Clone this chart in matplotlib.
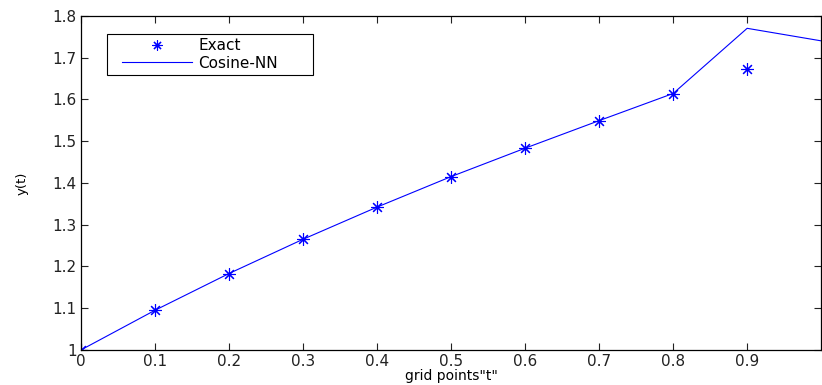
import matplotlib
matplotlib.use("Agg")
import matplotlib.pyplot as plt
from matplotlib.lines import Line2D
from matplotlib.legend_handler import HandlerLine2D

# grid points
t_exact = [0.0, 0.1, 0.2, 0.3, 0.4, 0.5, 0.6, 0.7, 0.8, 0.9]
y_exact = [1.000, 1.095, 1.183, 1.265, 1.342, 1.415, 1.483, 1.549, 1.612, 1.672]

t_nn = [0.0, 0.1, 0.2, 0.3, 0.4, 0.5, 0.6, 0.7, 0.8, 0.9, 1.0]
y_nn = [1.000, 1.095, 1.183, 1.265, 1.342, 1.415, 1.483, 1.549, 1.614, 1.770, 1.740]

x_ticks = [0, 0.1, 0.2, 0.3, 0.4, 0.5, 0.6, 0.7, 0.8, 0.9]
x_labels = ["0", "0.1", "0.2", "0.3", "0.4", "0.5", "0.6", "0.7", "0.8", "0.9"]
y_ticks = [1, 1.1, 1.2, 1.3, 1.4, 1.5, 1.6, 1.7, 1.8]
y_labels = ["1", "1.1", "1.2", "1.3", "1.4", "1.5", "1.6", "1.7", "1.8"]

plt.rcParams["font.family"] = ["DejaVu Sans"]

fig = plt.figure(figsize=(8.22, 3.85), dpi=100)
ax = fig.add_axes([0.0985, 0.091, 0.9005, 0.868])

ax.plot(t_exact, y_exact, linestyle="none", marker=(8, 2, 0), markersize=9,
        markeredgewidth=0.8, color="blue", label="Exact")
ax.plot(t_nn, y_nn, color="blue", linewidth=0.8, label="Cosine-NN")

ax.set_xlim(0, 1)
ax.set_ylim(1, 1.8)
ax.set_xticks(x_ticks)
ax.set_xticklabels(x_labels)
ax.set_yticks(y_ticks)
ax.set_yticklabels(y_labels)
ax.tick_params(direction="in", top=True, right=True, length=5, width=0.8,
               labelsize=11, pad=3, colors="#222222")
for s in ax.spines.values():
    s.set_linewidth(0.9)

ax.set_xlabel('grid points"t"', fontsize=10, labelpad=0)
ax.set_ylabel("y(t)", fontsize=9.5, labelpad=17)

leg = ax.legend(loc="upper left", bbox_to_anchor=(0.035, 0.946, 0.2785, 0.0),
                mode="expand", fontsize=11, handlelength=5.3,
                handler_map={Line2D: HandlerLine2D(xpad=0.7)},
                fancybox=False, edgecolor="black", framealpha=1,
                borderpad=0.3, labelspacing=0.15, handletextpad=0.4,
                borderaxespad=0.0, markerscale=0.8)
leg.get_frame().set_linewidth(0.8)

fig.savefig("out.png", dpi=100)
